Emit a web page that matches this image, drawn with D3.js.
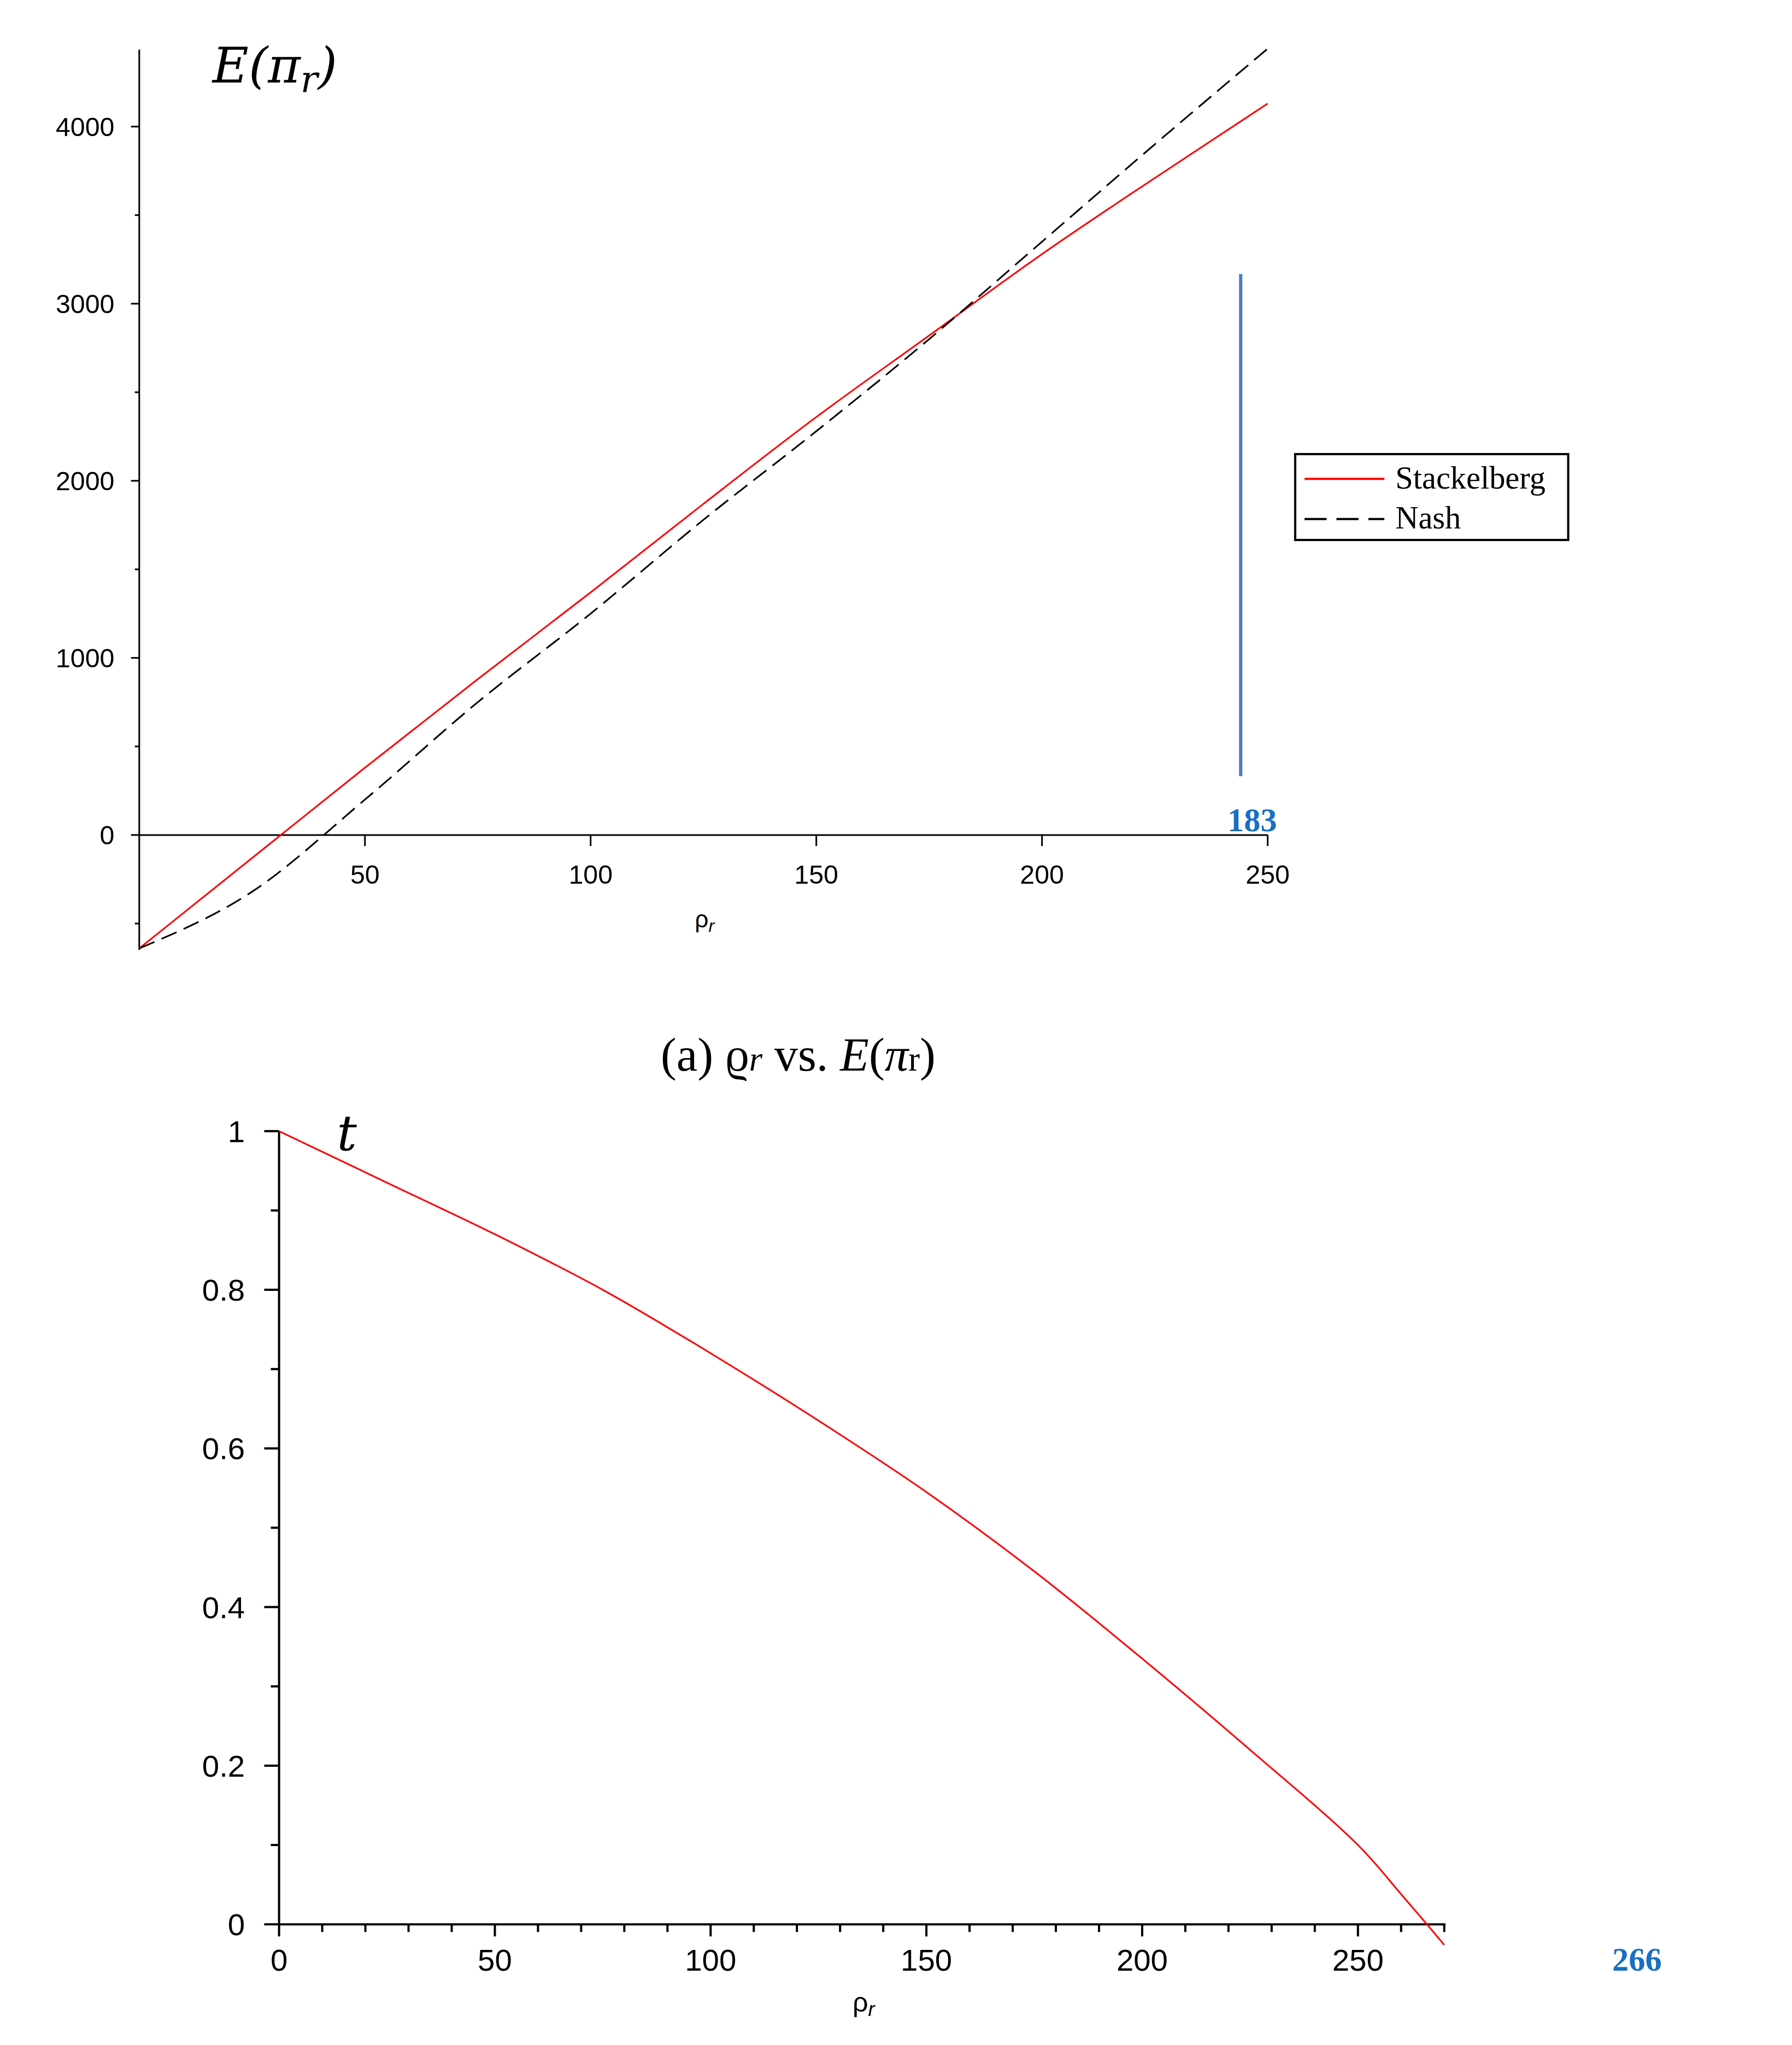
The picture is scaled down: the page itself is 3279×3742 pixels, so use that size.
<!DOCTYPE html><html><head><meta charset="utf-8"><script src="https://cdn.jsdelivr.net/npm/d3@7"></script>
<style>body{margin:0;background:#fff}</style></head><body><svg id="c" width="3279" height="3742"></svg>
<script>
const topX=[0,25,50,75,100,125,150,175,200,225,250];
const stackelberg=[-640,-130,380,880,1370,1870,2360,2820,3280,3710,4130];
const nash=[-640,-320,200,750,1250,1780,2280,2800,3350,3900,4440];
const topXTicks=[50,100,150,200,250];
const topYTicks=[0,1000,2000,3000,4000];
const botX=[0,25,50,75,100,125,150,175,200,225,250,260,266,270];
const botT=[1,0.935,0.87,0.8,0.72,0.635,0.545,0.445,0.335,0.22,0.1,0.038,0,-0.026];
const botXTicks=[0,50,100,150,200,250];
const botYTicks=[0,0.2,0.4,0.6,0.8,1];
const svg=d3.select("#c").append("g").attr("transform","scale(1.0072)");
const tickFont="'Liberation Sans',sans-serif";
// top chart
const x1=d3.scaleLinear().domain([0,250]).range([253,2303]);
const y1=d3.scaleLinear().domain([0,4000]).range([1517,230]);
const g1=svg.append("g");
g1.append("line").attr("x1",253).attr("x2",253).attr("y1",90).attr("y2",y1(-648)).attr("stroke","#000").attr("stroke-width",3);
g1.append("line").attr("x1",253).attr("x2",x1(250)).attr("y1",y1(0)).attr("y2",y1(0)).attr("stroke","#000").attr("stroke-width",3);
d3.range(-500,4500,500).forEach(v=>{const maj=v%1000===0;g1.append("line").attr("x1",maj?238:245).attr("x2",253).attr("y1",y1(v)).attr("y2",y1(v)).attr("stroke","#000").attr("stroke-width",3);});
topYTicks.forEach(v=>g1.append("text").attr("x",208).attr("y",y1(v)+17).attr("text-anchor","end").attr("font-family",tickFont).attr("font-size",48).text(v));
topXTicks.forEach(v=>{g1.append("line").attr("x1",x1(v)).attr("x2",x1(v)).attr("y1",y1(0)).attr("y2",y1(0)+20).attr("stroke","#000").attr("stroke-width",3);
 g1.append("text").attr("x",x1(v)).attr("y",1605).attr("text-anchor","middle").attr("font-family",tickFont).attr("font-size",48).text(v);});
g1.append("text").attr("x",1280).attr("y",1685).attr("text-anchor","middle").attr("font-family",tickFont).attr("font-size",44).html("ρ<tspan font-size='32' dy='8' font-style='italic'>r</tspan>");
const l1=d3.line().x((d,i)=>x1(topX[i])).y(d=>y1(d)).curve(d3.curveMonotoneX);
g1.append("path").attr("d",l1(stackelberg)).attr("fill","none").attr("stroke","#f00").attr("stroke-width",3);
g1.append("path").attr("d",l1(nash)).attr("fill","none").attr("stroke","#000").attr("stroke-width",3).attr("stroke-dasharray","30,14");
g1.append("text").attr("x",386).attr("y",150).attr("font-family","'DejaVu Serif',serif").attr("font-style","italic").attr("font-size",90).html("E(π<tspan font-size='66' dy='18'>r</tspan><tspan dy='-18'>)</tspan>");
g1.append("line").attr("x1",2254).attr("x2",2254).attr("y1",498).attr("y2",1410).attr("stroke","#4a7fc1").attr("stroke-width",6);
g1.append("text").attr("x",2275).attr("y",1510).attr("text-anchor","middle").attr("font-family","'Liberation Serif',serif").attr("font-weight","bold").attr("font-size",60).attr("fill","#1a6fbf").text("183");
// legend
g1.append("rect").attr("x",2353).attr("y",825).attr("width",496).attr("height",156).attr("fill","#fff").attr("stroke","#000").attr("stroke-width",4);
g1.append("line").attr("x1",2370).attr("x2",2515).attr("y1",870).attr("y2",870).attr("stroke","#f00").attr("stroke-width",4);
g1.append("line").attr("x1",2370).attr("x2",2515).attr("y1",943).attr("y2",943).attr("stroke","#000").attr("stroke-width",4).attr("stroke-dasharray","40,18");
g1.append("text").attr("x",2535).attr("y",888).attr("font-family","'Liberation Serif',serif").attr("font-size",58).text("Stackelberg");
g1.append("text").attr("x",2535).attr("y",960).attr("font-family","'Liberation Serif',serif").attr("font-size",58).text("Nash");
// caption
svg.append("text").attr("x",1450).attr("y",1945).attr("text-anchor","middle").attr("font-family","'Liberation Serif',serif").attr("font-size",86).html("(a) ϱ<tspan font-style='italic' font-size='62'>r</tspan> vs. <tspan font-style='italic'>E</tspan>(<tspan font-style='italic'>π</tspan><tspan font-size='62'>r</tspan>)");
// bottom chart
const x2=d3.scaleLinear().domain([0,250]).range([507,2467]);
const y2=d3.scaleLinear().domain([0,1]).range([3496,2055]);
const g2=svg.append("g");
g2.append("line").attr("x1",507).attr("x2",507).attr("y1",2055).attr("y2",3496).attr("stroke","#000").attr("stroke-width",4);
g2.append("line").attr("x1",507).attr("x2",2626).attr("y1",3496).attr("y2",3496).attr("stroke","#000").attr("stroke-width",4);
d3.range(0,11).forEach(i=>{const v=i/10,maj=i%2===0;g2.append("line").attr("x1",maj?480:492).attr("x2",507).attr("y1",y2(v)).attr("y2",y2(v)).attr("stroke","#000").attr("stroke-width",4);});
botYTicks.forEach(v=>g2.append("text").attr("x",445).attr("y",y2(v)+20).attr("text-anchor","end").attr("font-family",tickFont).attr("font-size",56).text(v));
d3.range(0,280,10).forEach(v=>{const maj=v%50===0;g2.append("line").attr("x1",x2(v)).attr("x2",x2(v)).attr("y1",3496).attr("y2",3496+(maj?22:14)).attr("stroke","#000").attr("stroke-width",4);});
botXTicks.forEach(v=>g2.append("text").attr("x",x2(v)).attr("y",3580).attr("text-anchor","middle").attr("font-family",tickFont).attr("font-size",56).text(v));
g2.append("text").attr("x",1569).attr("y",3655).attr("text-anchor","middle").attr("font-family",tickFont).attr("font-size",50).html("ρ<tspan font-size='36' dy='8' font-style='italic'>r</tspan>");
const l2=d3.line().x((d,i)=>x2(botX[i])).y(d=>y2(d)).curve(d3.curveCatmullRom);
g2.append("path").attr("d",l2(botT)).attr("fill","none").attr("stroke","#f00").attr("stroke-width",3);
g2.append("text").attr("x",612).attr("y",2090).attr("font-family","'DejaVu Serif',serif").attr("font-style","italic").attr("font-size",90).text("t");
g2.append("text").attr("x",2974).attr("y",3580).attr("text-anchor","middle").attr("font-family","'Liberation Serif',serif").attr("font-weight","bold").attr("font-size",60).attr("fill","#1a6fbf").text("266");
</script></body></html>
